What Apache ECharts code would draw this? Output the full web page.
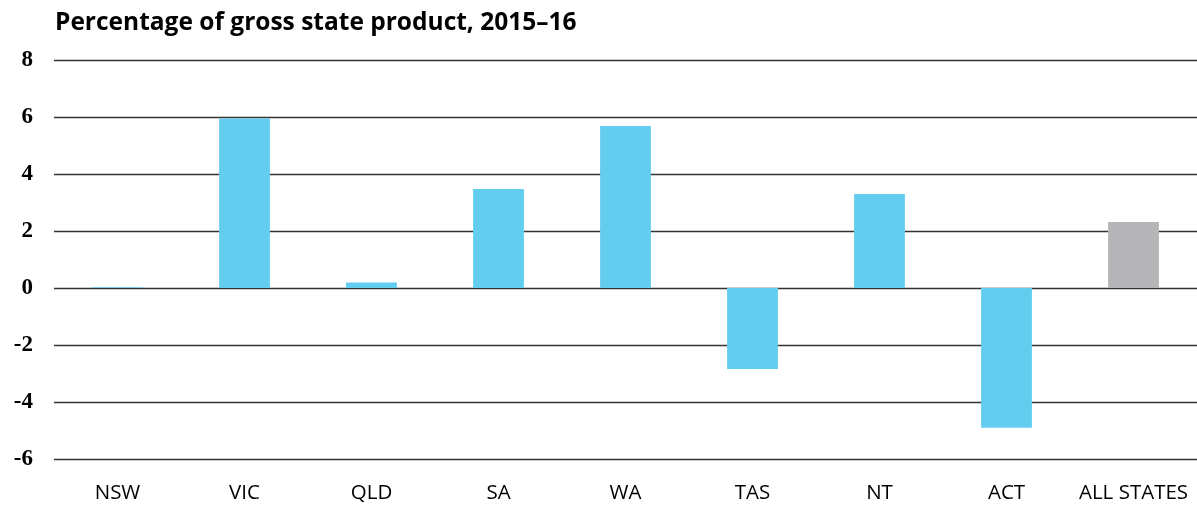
<!DOCTYPE html>
<html>
<head>
<meta charset="utf-8">
<script src="https://cdn.jsdelivr.net/npm/echarts@6/dist/echarts.min.js"></script>
<style>
  html, body { margin: 0; padding: 0; background: #fff; }
  #chart { width: 1197px; height: 505px; }
</style>
</head>
<body>
<div id="chart"></div>
<script>
var states = ['NSW', 'VIC', 'QLD', 'SA', 'WA', 'TAS', 'NT', 'ACT', 'ALL STATES'];
var values = [0.03, 5.95, 0.19, 3.47, 5.68, -2.84, 3.3, -4.9, 2.32];
var allStatesIndex = 8;

var chart = echarts.init(document.getElementById('chart'));

var option = {
  animation: false,
  title: {
    text: 'Percentage of gross state product, 2015\u201316',
    left: 50,
    top: 6,
    textStyle: {
      fontFamily: 'Open Sans',
      fontWeight: 'bold',
      fontSize: 24.5,
      color: '#000'
    }
  },
  grid: {
    left: 54,
    right: 0,
    top: 60,
    bottom: 46
  },
  xAxis: {
    type: 'category',
    data: states,
    axisLine: { show: false },
    axisTick: { show: false },
    axisLabel: {
      interval: 0,
      hideOverlap: false,
      margin: 24,
      fontFamily: 'Open Sans',
      fontSize: 20.5,
      color: '#000'
    }
  },
  yAxis: {
    type: 'value',
    min: -6,
    max: 8,
    interval: 2,
    axisLine: { show: false },
    axisTick: { show: false },
    axisLabel: {
      margin: 21,
      fontFamily: 'Liberation Serif',
      fontWeight: 'bold',
      fontSize: 23,
      color: '#000'
    },
    splitLine: {
      lineStyle: { color: '#333', width: 1.3 }
    }
  },
  series: [{
    type: 'bar',
    barWidth: '40%',
    data: values.map(function (v, i) {
      return {
        value: v,
        itemStyle: { color: i === allStatesIndex ? '#b5b5b7' : '#63cdf0' }
      };
    })
  }]
};

chart.setOption(option);
</script>
</body>
</html>
